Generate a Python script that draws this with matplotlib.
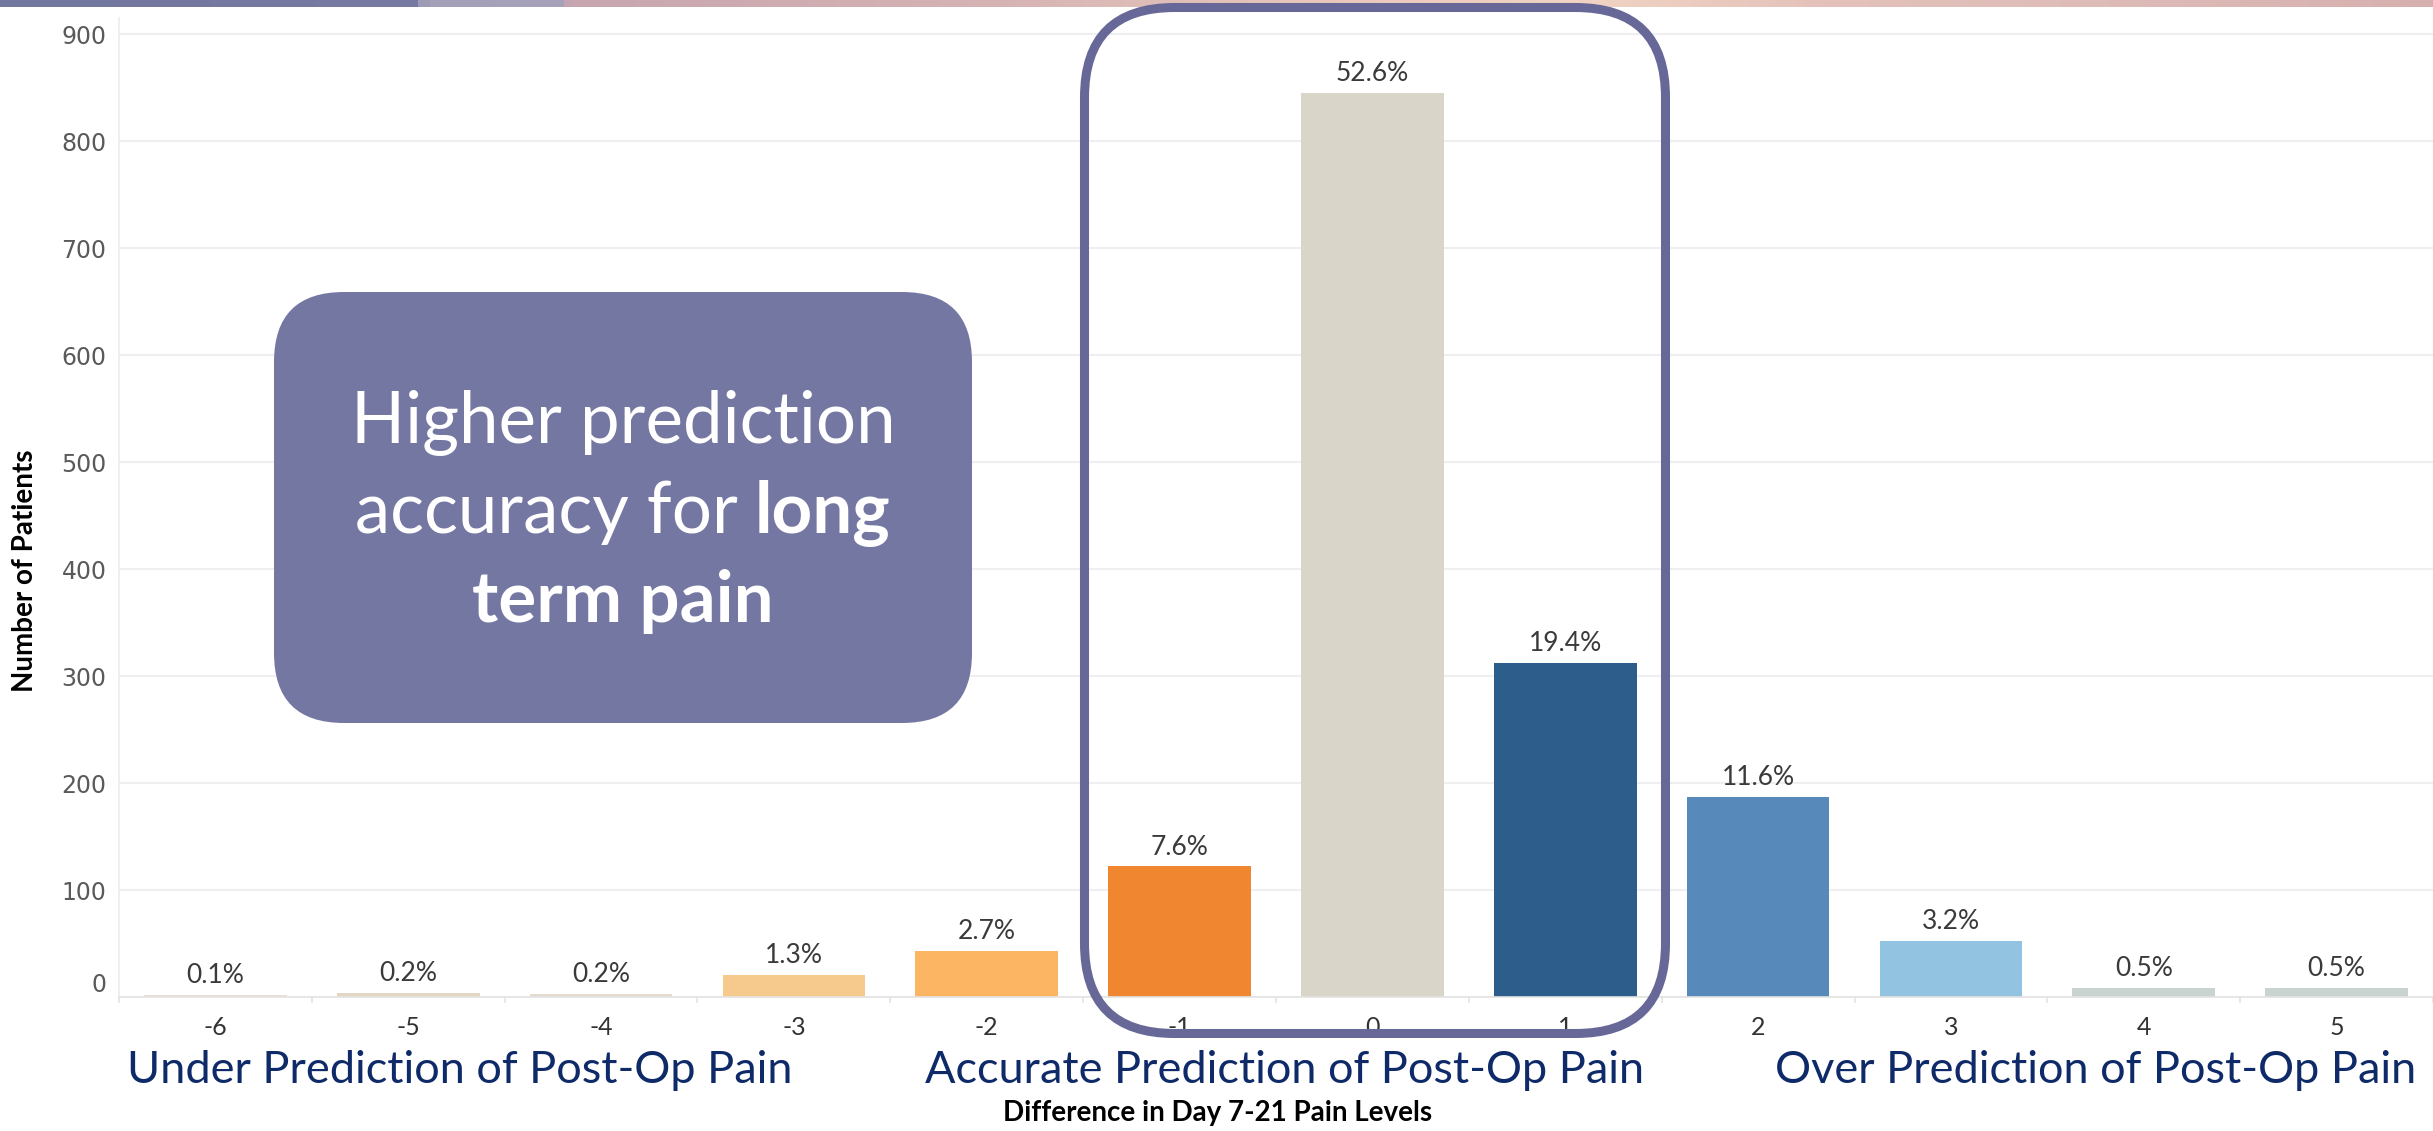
import numpy as np
import matplotlib.pyplot as plt
from matplotlib.patches import FancyBboxPatch
from matplotlib.colors import LinearSegmentedColormap

# data
diffs = ['-6', '-5', '-4', '-3', '-2', '-1', '0', '1', '2', '3', '4', '5']
patients = [2, 4, 3, 21, 43, 122, 845, 312, 187, 52, 8, 8]
bar_colors = ['#e9dfd0', '#e3d6c3', '#e6dccd', '#f6c98c', '#fbb563', '#f0862f',
              '#d9d5c9', '#2d5e8b', '#578aba', '#92c3e0', '#c9d4d0', '#c9d4d0']
yticks = [0, 100, 200, 300, 400, 500, 600, 700, 800, 900]
group_labels = ['Under Prediction of Post-Op Pain',
                'Accurate Prediction of Post-Op Pain',
                'Over Prediction of Post-Op Pain']

W, H = 2433, 1131

fig = plt.figure(figsize=(W/100, H/100), dpi=100)
fig.patch.set_facecolor('white')

ax = fig.add_axes([119/W, (H-997)/H, (W-119)/W, (997-18)/H])
x = np.arange(len(diffs))
ax.bar(x, patients, width=0.74, color=bar_colors, zorder=2)
ax.set_xlim(-0.5, len(diffs)-0.5)
ax.set_ylim(0, 915)

total = sum(patients)
for i, v in enumerate(patients):
    ax.annotate('{:.1f}%'.format(v/total*100), (i, v), xytext=(0, 5),
                textcoords='offset points', ha='center', va='bottom',
                fontsize=19, family='Lato', color='#3a3a3a')

ax.set_yticks(yticks)
ax.set_yticklabels([str(t) for t in yticks], fontsize=17, color='#5a5a5a')
ax.set_xticks(x)
ax.set_xticklabels(diffs, fontsize=18, family='Lato', color='#333333')
ax.set_xticks(np.arange(len(diffs)+1)-0.5, minor=True)
ax.tick_params(axis='x', which='major', length=0, pad=14)
ax.tick_params(axis='x', which='minor', length=4, color='#e3e3e3', width=1.2)
ax.tick_params(axis='y', length=0, pad=9)
ax.get_yticklabels()[0].set_va('bottom')
ax.grid(axis='y', color='#efefef', lw=1.5, zorder=0)
for s in ['top', 'right']:
    ax.spines[s].set_visible(False)
ax.spines['left'].set_color('#ececec')
ax.spines['bottom'].set_color('#e3e3e3')
ax.spines['left'].set_linewidth(1.2)
ax.spines['bottom'].set_linewidth(1.2)

fig.text(25/W, 1-571/H, 'Number of Patients', rotation=90, ha='center', va='center',
         fontsize=20, family='Lato', weight='bold', color='black')
fig.text(1218/W, 1-1113/H, 'Difference in Day 7-21 Pain Levels', ha='center', va='center',
         fontsize=20, family='Lato', weight='bold', color='black')

# overlay in pixel coordinates for the annotations
ov = fig.add_axes([0, 0, 1, 1])
ov.set_zorder(5)
ov.axis('off')

# decorative strip at the top
strip = LinearSegmentedColormap.from_list('strip', [
    (0.0, '#7378a0'), (0.17, '#777aa2'), (0.173, '#a3a0b8'), (0.228, '#a7a2b8'),
    (0.232, '#c8a6b0'), (0.4, '#d5b2b3'), (0.55, '#e9c9bd'), (0.65, '#f1d4c3'),
    (0.75, '#e4c2bb'), (0.9, '#dcb9b6'), (1.0, '#d6b0ae')])
ov.imshow(np.linspace(0, 1, 600)[None, :], cmap=strip, extent=(0, W, 7.5, 0),
          aspect='auto', zorder=1)

ov.set_xlim(0, W)
ov.set_ylim(H, 0)

# outline around the accurate predictions
ov.add_patch(FancyBboxPatch((1084.5+90, 7.5+90), 1665.5-1084.5-180, 1033.5-7.5-180,
                            boxstyle='round,pad=90', fc='none', ec='#676897',
                            lw=6.5, zorder=3))

# call-out box
ov.add_patch(FancyBboxPatch((274+70, 292+70), 972-274-140, 723-292-140,
                            boxstyle='round,pad=70', fc='#7577a3', ec='none', zorder=2))
cx = 623
fs = 51
ov.text(cx, 443, 'Higher prediction', ha='center', va='baseline', fontsize=fs,
        family='Lato', color='white', zorder=4)
ov.text(cx, 622, 'term pain', ha='center', va='baseline', fontsize=fs,
        family='Lato', weight='bold', color='white', zorder=4)
t1 = ov.text(0, 533, 'accuracy for', ha='left', va='baseline', fontsize=fs,
             family='Lato', color='white', zorder=4)
t2 = ov.text(0, 533, 'long', ha='left', va='baseline', fontsize=fs,
             family='Lato', weight='bold', color='white', zorder=4)
r = fig.canvas.get_renderer()
w1 = t1.get_window_extent(r).width
w2 = t2.get_window_extent(r).width
gap = 17
x0 = cx - (w1 + gap + w2)/2
t1.set_x(x0)
t2.set_x(x0 + w1 + gap)

for lbl, xc in zip(group_labels, [460, 1285, 2096]):
    ov.text(xc, 1083, lbl, ha='center', va='baseline', fontsize=32.5,
            family='Lato', color='#0f2a68', zorder=4)

plt.savefig('out.png', dpi=100)
